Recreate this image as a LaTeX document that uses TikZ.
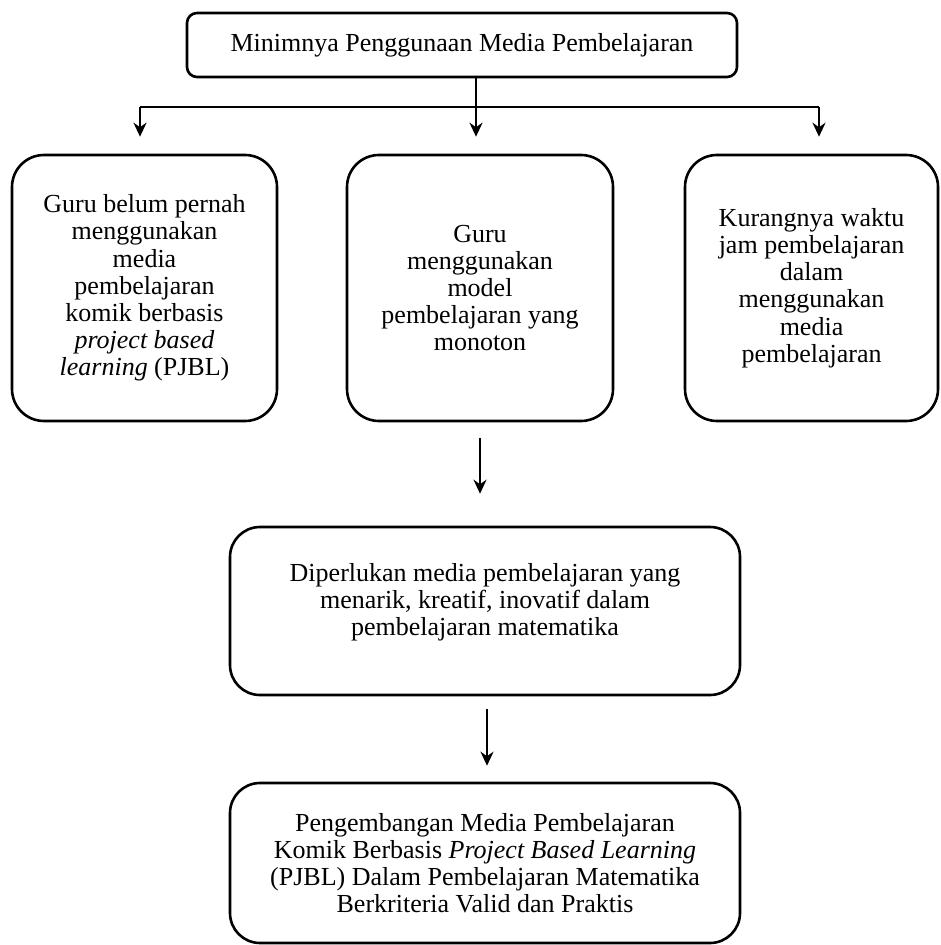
\documentclass[tikz,border=0pt]{standalone}
\usepackage{fontspec}
\setmainfont{Liberation Serif}
\usetikzlibrary{arrows.meta, positioning}

\tikzset{
  words/.style={align=center, inner sep=0pt, font=\fontsize{13pt}{13.6pt}\selectfont},
  bar/.style={draw, rounded corners=5pt, words},
  card/.style={draw, rounded corners=16pt, words},
  wide/.style={draw, rounded corners=15pt, words},
}

\begin{document}
\begin{tikzpicture}[x=0.5pt, y=-0.5pt, >={Stealth[length=7pt, width=6.5pt]}, line width=1.3pt]
    \useasboundingbox (0,0) rectangle (940,945);

    \node[bar, minimum width=275pt, minimum height=32pt] (top) at (462,45) {Minimnya Penggunaan Media Pembelajaran};

    % the three causes
    \node[card, minimum width=132.5pt, minimum height=133pt] (c1) at (144.5,288) {Guru belum pernah\\menggunakan\\media\\pembelajaran\\komik berbasis\\\textit{project based}\\\textit{learning} (PJBL)};
    \node[card, minimum width=133pt, minimum height=133pt] (c2) at (480,288) {Guru\\menggunakan\\model\\pembelajaran yang\\monoton};
    \node[card, minimum width=126.5pt, minimum height=133pt] (c3) at (811.5,288) {Kurangnya waktu\\jam pembelajaran\\dalam\\menggunakan\\media\\pembelajaran};

    \node[wide, minimum width=255pt, minimum height=84pt] (need) at (485,611) {};
    \node[words] (t4) at ([yshift=4.5pt]need.center) {Diperlukan media pembelajaran yang\\menarik, kreatif, inovatif dalam\\pembelajaran matematika};

    \node[wide, minimum width=255pt, minimum height=80pt] (goal) at (485,863) {Pengembangan Media Pembelajaran\\Komik Berbasis \textit{Project Based Learning}\\(PJBL) Dalam Pembelajaran Matematika\\Berkriteria Valid dan Praktis};

    % branching line
    \coordinate (hub) at (476,107);
    \coordinate (b1) at (140,107);
    \coordinate (b3) at (819,107);
    \coordinate (a2) at (487,0);
    \draw (top.south -| hub) -- (hub);
    \draw (b1) -- (b3);
    \draw[->, shorten >=8.5pt] (b1) -- (b1 |- c1.north);
    \draw[->, shorten >=8.5pt] (hub) -- (hub |- c2.north);
    \draw[->, shorten >=8.5pt] (b3) -- (b3 |- c3.north);

    \draw[->, shorten <=8pt, shorten >=16pt] (c2.south) -- (c2.south |- need.north);
    \draw[->, shorten <=6.5pt, shorten >=8pt] (need.south -| a2) -- (goal.north -| a2);
\end{tikzpicture}
\end{document}
